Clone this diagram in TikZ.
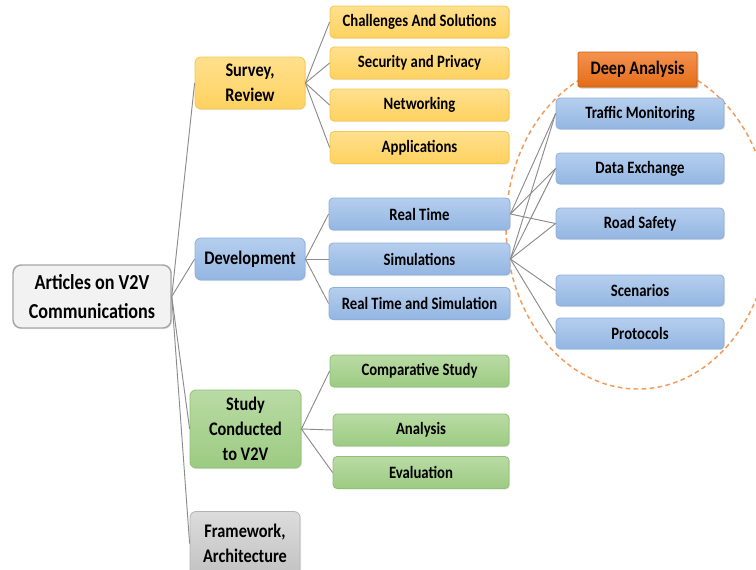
\documentclass[tikz,border=0pt]{standalone}
\usepackage{fontspec}
\setmainfont{Carlito}[FakeStretch=0.85]
\usetikzlibrary{shadows}
\definecolor{yellowtop}{HTML}{FFE08E}
\definecolor{yellowbot}{HTML}{FFD25F}
\definecolor{yellowline}{HTML}{F5C74E}
\definecolor{bluetop}{HTML}{B5CEEE}
\definecolor{bluebot}{HTML}{93B6E2}
\definecolor{blueline}{HTML}{8EB0DC}
\definecolor{greentop}{HTML}{B9DBA4}
\definecolor{greenbot}{HTML}{9CCB82}
\definecolor{greenline}{HTML}{8FC076}
\definecolor{graytop}{HTML}{DCDCDC}
\definecolor{graybot}{HTML}{C2C2C2}
\definecolor{grayline}{HTML}{B4B4B4}
\definecolor{orangetop}{HTML}{F4924F}
\definecolor{orangebot}{HTML}{E46C18}
\definecolor{orangeline}{HTML}{C9600F}
\definecolor{ovalline}{HTML}{F29B5C}
\definecolor{linkgray}{HTML}{8C8C8C}
\begin{document}
\begin{tikzpicture}[x=0.75pt, y=-0.75pt,
  box/.style={rounded corners=3pt, line width=0.6pt, align=center, inner sep=0pt,
    font=\bfseries\fontsize{13}{15}\selectfont,
    drop shadow={opacity=0.18, shadow xshift=0.8pt, shadow yshift=-0.8pt}},
  topbox/.style={box, rounded corners=4.5pt, minimum width=82.5pt,
    font=\bfseries\fontsize{14.4}{18.75}\selectfont},
  leaf/.style={box, minimum width=134.25pt, minimum height=24pt},
  sideleaf/.style={box, minimum width=126pt, minimum height=23.25pt},
  yellowbox/.style={draw=yellowline, top color=yellowtop, bottom color=yellowbot},
  bluebox/.style={draw=blueline, top color=bluetop, bottom color=bluebot},
  greenbox/.style={draw=greenline, top color=greentop, bottom color=greenbot},
  graybox/.style={draw=grayline, top color=graytop, bottom color=graybot},
  link/.style={draw=linkgray, line width=0.7pt}]
\fill[white] (0,0) rectangle (756,569);
\useasboundingbox (0,0) rectangle (756,569);
  \draw[ovalline, line width=1.1pt, dash pattern=on 3.5pt off 2.5pt] (638,226) ellipse [x radius=132, y radius=163];
  \node[box, draw=gray!70, line width=1.1pt, fill=gray!10, rounded corners=6pt, minimum width=118.5pt, minimum height=47.25pt,
    font=\bfseries\fontsize{16}{21.75}\selectfont] (root) at (92,296.5) {Articles on V2V\\Communications};
  \node[topbox, yellowbox, minimum height=39pt] (survey) at (250,83) {Survey,\\Review};
  \node[topbox, bluebox, minimum height=31.5pt] (devel) at (250,259) {Development};
  \node[topbox, greenbox, minimum width=83.25pt, minimum height=58.5pt] (study) at (245.5,429) {Study\\Conducted\\to V2V};
  \node[topbox, graybox, minimum height=48pt] (frame) at (245,543.5) {Framework,\\Architecture};
  \node[leaf, yellowbox] (chal) at (419.5,22) {Challenges And Solutions};
  \node[leaf, yellowbox] (secu) at (419.5,63) {Security and Privacy};
  \node[leaf, yellowbox] (netw) at (419.5,105) {Networking};
  \node[leaf, yellowbox] (appl) at (419.5,147.5) {Applications};
  \node[leaf, bluebox, minimum width=135.75pt] (rtime) at (419.5,214) {Real Time};
  \node[leaf, bluebox, minimum width=135.75pt] (simul) at (419.5,259) {Simulations};
  \node[leaf, bluebox, minimum width=135.75pt] (rtsim) at (419.5,303.5) {Real Time and Simulation};
  \node[leaf, greenbox] (comp) at (419.5,371) {Comparative Study};
  \node[leaf, greenbox, minimum width=132pt] (anal) at (421,430) {Analysis};
  \node[leaf, greenbox, minimum width=132pt] (eval) at (421,472.5) {Evaluation};
  \node[box, draw=orangeline, top color=orangetop, bottom color=orangebot, rounded corners=1pt,
    minimum width=89.25pt, minimum height=26.25pt, font=\bfseries\fontsize{14.3}{16}\selectfont,
    drop shadow={opacity=0.35, shadow xshift=1.2pt, shadow yshift=-1.2pt}] (deep) at (637.5,69.5) {Deep Analysis};
  \node[sideleaf, bluebox] (traf) at (640,113.5) {Traffic Monitoring};
  \node[sideleaf, bluebox] (data) at (640,168.5) {Data Exchange};
  \node[sideleaf, bluebox] (road) at (640,223.5) {Road Safety};
  \node[sideleaf, bluebox] (scen) at (640,290.5) {Scenarios};
  \node[sideleaf, bluebox] (prot) at (640,333.5) {Protocols};
  \foreach \n in {survey,devel,study,frame}
    \draw[link] (root.east) -- (\n.west);
  \foreach \n in {chal,secu,netw,appl}
    \draw[link] (survey.east) -- (\n.west);
  \foreach \n in {rtime,simul,rtsim}
    \draw[link] (devel.east) -- (\n.west);
  \foreach \n in {comp,anal,eval}
    \draw[link] (study.east) -- (\n.west);
  \foreach \n in {traf,data,road}
    \draw[link] (rtime.east) -- (\n.west);
  \foreach \n in {traf,data,road,scen,prot}
    \draw[link] (simul.east) -- (\n.west);
\end{tikzpicture}
\end{document}
